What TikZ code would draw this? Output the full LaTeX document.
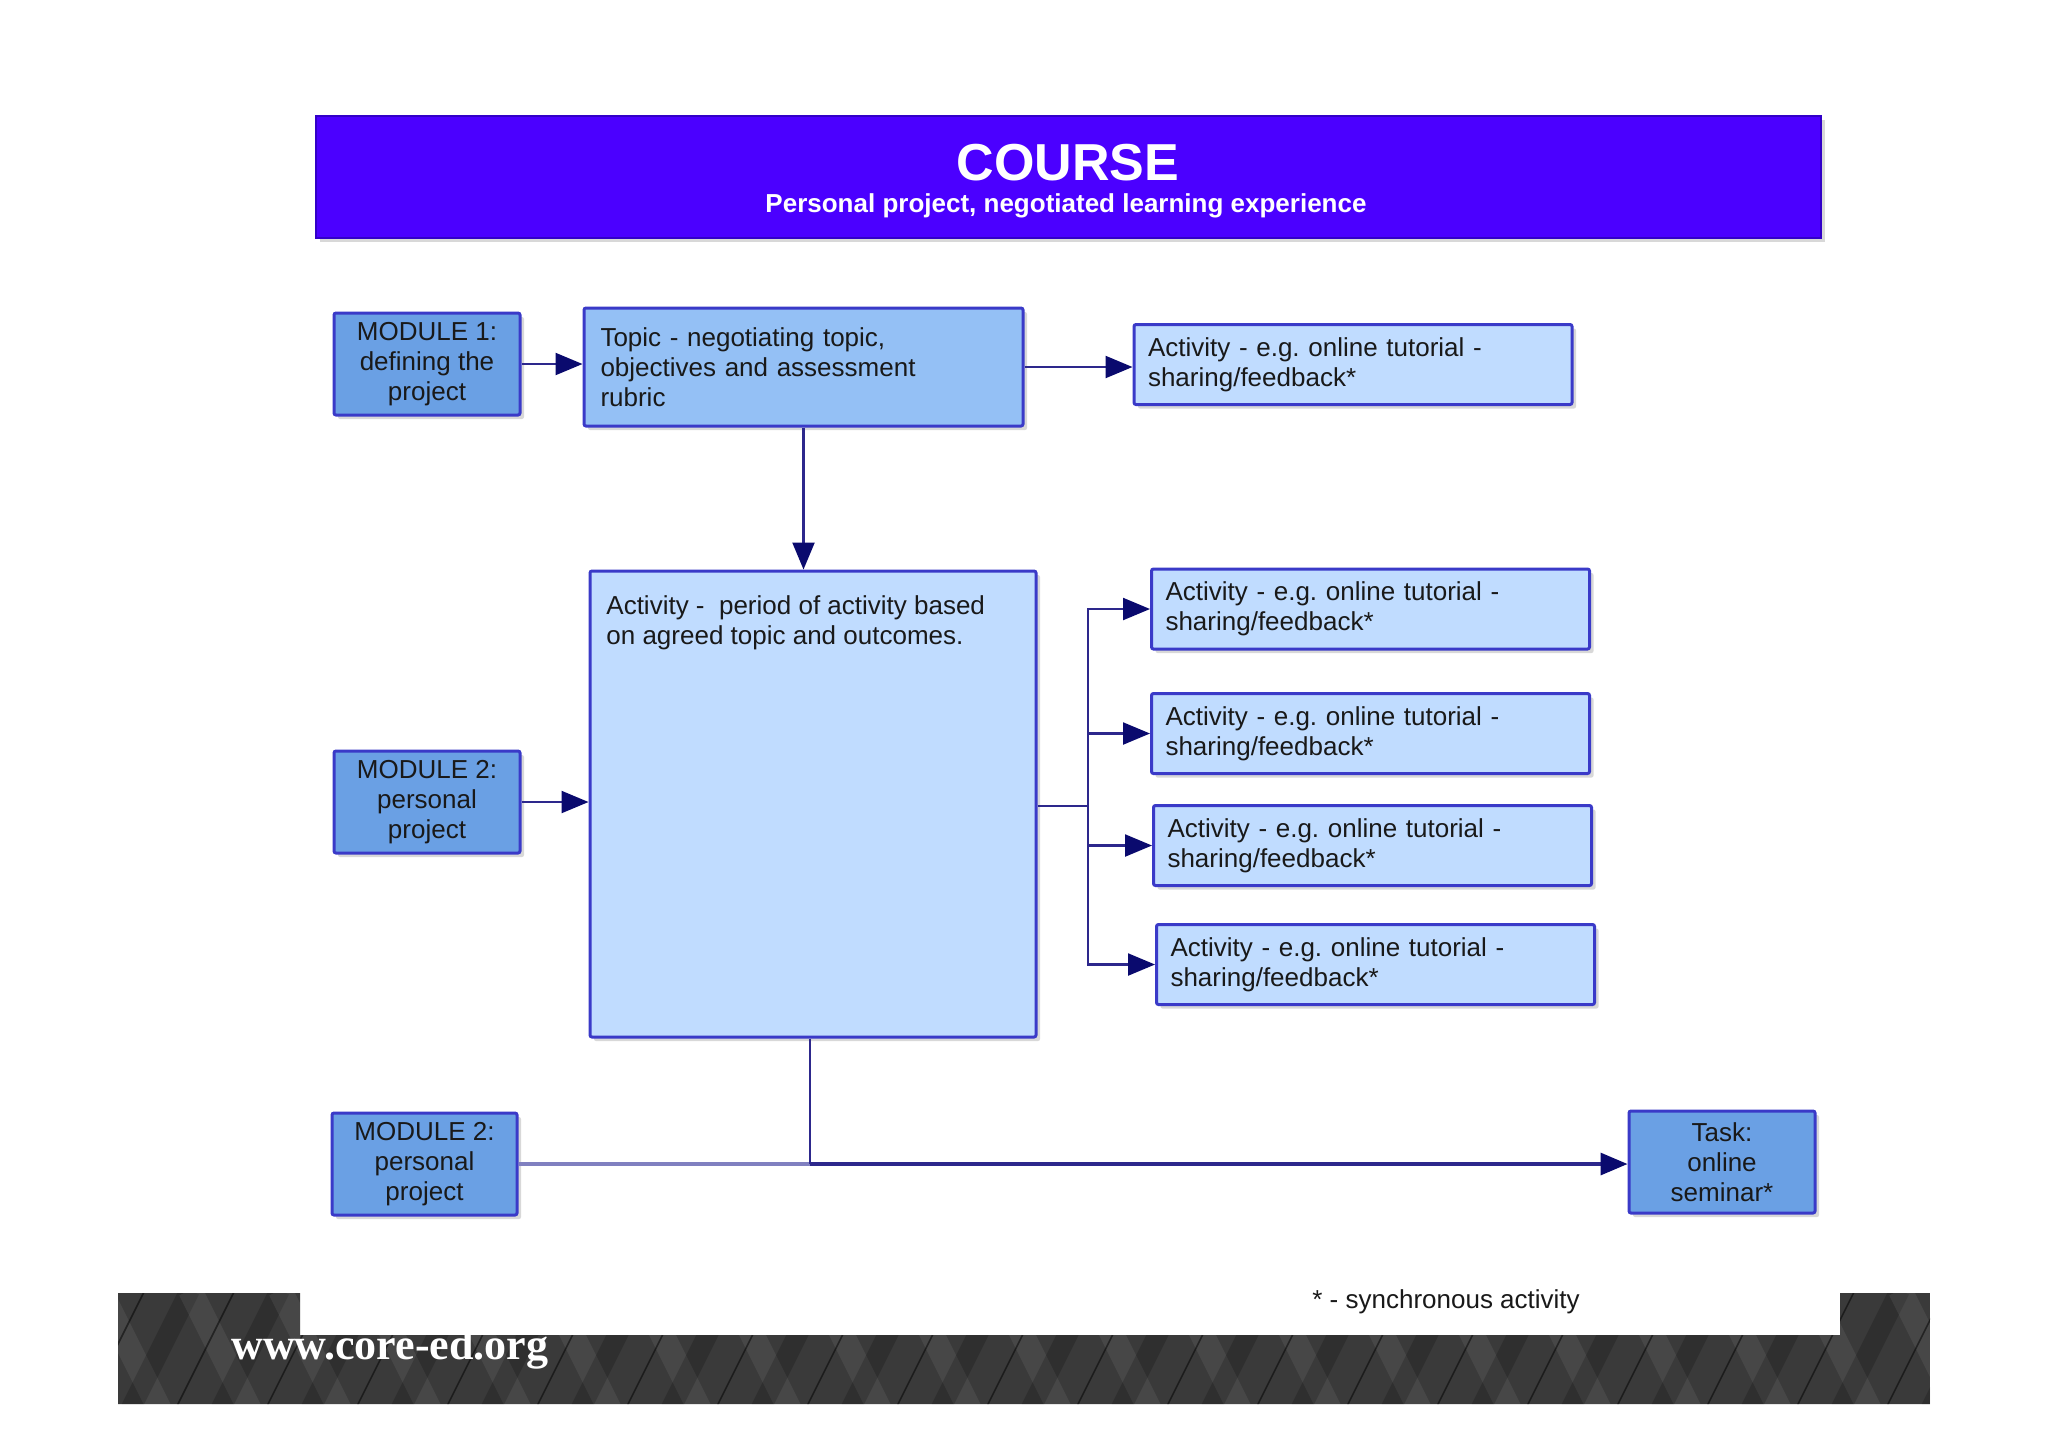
\documentclass[tikz,border=0pt]{standalone}
\usepackage{fontspec}
\setmainfont{Liberation Sans}
\newfontfamily\slabfont{Liberation Serif}
\usetikzlibrary{arrows.meta,shadows}
\definecolor{banner}{RGB}{75,0,255}
\definecolor{bannerline}{RGB}{50,0,200}
\definecolor{modfill}{RGB}{106,160,228}
\definecolor{topicfill}{RGB}{148,192,245}
\definecolor{actfill}{RGB}{192,220,255}
\definecolor{boxline}{RGB}{58,58,200}
\definecolor{arrowc}{RGB}{10,10,110}
\definecolor{linec}{RGB}{45,40,140}
\definecolor{lightline}{RGB}{128,128,192}
\definecolor{txt}{RGB}{25,25,25}
\definecolor{band}{RGB}{58,58,58}
\frenchspacing
\begin{document}
\frenchspacing
\begin{tikzpicture}[x=0.5pt,y=-0.5pt,
  box/.style={draw=boxline, line width=1.5pt, rounded corners=1pt,
    drop shadow={shadow xshift=2pt,shadow yshift=-2pt,opacity=0.3},
    inner sep=0pt, text=txt, font=\fontsize{13}{15}\selectfont},
  modbox/.style={box, fill=modfill, minimum width=93pt, minimum height=51pt, align=center},
  actbox/.style={box, fill=actfill, minimum width=219pt, minimum height=40pt, text width=205pt, align=left},
  conn/.style={draw=linec, line width=1.1pt},
  arrow/.style={conn, -{Triangle[length=13.5pt,width=11pt,color=arrowc]}},
  bodytext/.style={text=txt, font=\fontsize{13}{15}\selectfont, inner sep=0pt}
]
\useasboundingbox (0,0) rectangle (2048,1447);
\fill[white] (0,0) rectangle (2048,1447);

% banner
\node[draw=bannerline, line width=1pt, fill=banner, minimum width=752.5pt, minimum height=61pt,
  drop shadow={shadow xshift=2pt,shadow yshift=-2pt,opacity=0.3}, inner sep=0pt] (banner) at (1068.5,177) {};
\node[text=white, font=\bfseries\fontsize{26}{28}\selectfont, inner sep=0pt] (title) at (1068,163) {COURSE};
\node[text=white, font=\bfseries\fontsize{13}{15}\selectfont, inner sep=0pt] (subtitle) at (1066,206) {Personal project, negotiated learning experience};

% boxes
\node[modbox] (mod1) at (427,364) {MODULE 1:\\defining the\\project};
\node[box, fill=topicfill, minimum width=219.5pt, minimum height=59pt, text width=203pt, align=left] (topic) at (803.5,367)
  {Topic - negotiating topic,\\objectives and assessment\\rubric};
\node[actbox] (act0) at (1353,364.5) {Activity - e.g. online tutorial -\\sharing/feedback*};

\node[box, fill=actfill, minimum width=223pt, minimum height=233pt] (big) at (813,804) {};
\node[bodytext, anchor=north west, align=left] (bigtext) at (606,595)
  {Activity -\ \ period of activity based\\on agreed topic and outcomes.};

\node[modbox] (mod2) at (427,802) {MODULE 2:\\personal\\project};

\node[actbox] (act1) at (1370.5,609) {Activity - e.g. online tutorial -\\sharing/feedback*};
\node[actbox] (act2) at (1370.5,733.5) {Activity - e.g. online tutorial -\\sharing/feedback*};
\node[actbox] (act3) at (1372.5,845.5) {Activity - e.g. online tutorial -\\sharing/feedback*};
\node[actbox] (act4) at (1375.5,964.5) {Activity - e.g. online tutorial -\\sharing/feedback*};

\node[modbox, minimum width=92.5pt] (mod3) at (424.5,1164) {MODULE 2:\\personal\\project};
\node[modbox] (task) at (1722,1162) {Task:\\online\\seminar*};

% connectors
\draw[arrow] (mod1.east) -- (mod1.east -| topic.west);
\draw[arrow] (topic.east) -- (topic.east -| act0.west);
\draw[arrow] (topic.south) -- (topic.south |- big.north);
\draw[arrow] (mod2.east) -- (mod2.east -| big.west);
\coordinate (bus) at (1088,806);
\draw[conn] (big.east |- bus) -- (bus);
\draw[arrow] (bus) |- (act1.west);
\draw[arrow] (bus) |- (act2.west);
\draw[arrow] (bus) |- (act3.west);
\draw[arrow] (bus) |- (act4.west);
\coordinate (join) at (810,1164);
\draw[draw=lightline, line width=1.6pt] (mod3.east) -- (join);
\draw[conn] (big.south -| join) -- (join);
\draw[arrow, line width=1.6pt] (join) -- (join -| task.west);

% footnote
\node[bodytext, anchor=west] (note) at (1312,1302) {* - synchronous activity};

% footer band
\begin{scope}
\clip (118,1293) -- (300,1293) -- (300,1335) -- (1840,1335) -- (1840,1293) -- (1930,1293) -- (1930,1404) -- (118,1404) -- cycle;
\fill[band] (118,1290) rectangle (1930,1406);
\foreach \x in {0,90,...,1890} {
  \draw[line width=12pt, white, opacity=0.07] (100+\x,1290) -- (160+\x,1410);
  \draw[line width=10pt, black, opacity=0.18] (190+\x,1290) -- (130+\x,1410);
  \draw[line width=0.8pt, black, opacity=0.5] (145+\x,1290) -- (85+\x,1410);
}
\end{scope}
\node[text=white, font=\slabfont\bfseries\fontsize{22}{24}\selectfont, inner sep=0pt, anchor=west] (url) at (231,1349) {www.core-ed.org};
\end{tikzpicture}
\end{document}
